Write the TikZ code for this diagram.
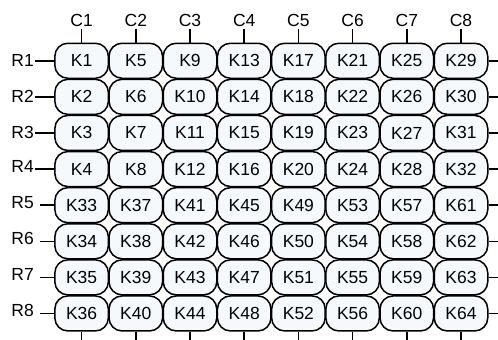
\documentclass[tikz,border=0pt]{standalone}
\usepackage{fontspec}
\setmainfont{Liberation Sans}
\usepackage{tikz}
\usetikzlibrary{positioning}
\definecolor{cKey}{RGB}{246,249,251}

\tikzset{
  keybox/.style={draw, line width=1.5pt, rounded corners=13pt, fill=cKey,
    minimum width=53.5pt, minimum height=35pt, inner sep=0pt,
    font=\fontsize{17.5}{20}\selectfont},
  pinlabel/.style={inner sep=2pt, font=\fontsize{17.5}{20}\selectfont},
  pinline/.style={line width=1.5pt}
}

\begin{document}
\begin{tikzpicture}[x=1pt, y=-1pt]
  \useasboundingbox (0,0) rectangle (498,340);
  % key matrix
  \foreach \r in {1,...,8} {
    \foreach \c in {1,...,8} {
      \pgfmathtruncatemacro\k{(\r>4)*32+(\c-1)*4+mod(\r-1,4)+1}
      \node[keybox] (k-\r-\c) at ({81.6+54.2*(\c-1)}, {60.75+36.1*(\r-1)}) {K\k};
    }
  }
  % column lines
  \foreach \c in {1,...,8} {
    \node[pinlabel, anchor=south] (col\c) at ({81.6+54.2*(\c-1)}, 29) {C\c};
    \coordinate (bot\c) at ({81.6+54.2*(\c-1)}, 340);
    \draw[pinline] (col\c.south) -- (k-1-\c.north);
    \draw[pinline] (k-8-\c.south) -- (bot\c);
  }
  % row lines
  \foreach \r in {1,...,8} {
    \pgfmathsetmacro\dy{(\r>3)*3}
    \pgfmathsetmacro\tx{(\r>4)*5}
    \node[pinlabel, anchor=east] (row\r) at (36, {60.75+36.1*(\r-1)-\dy}) {R\r};
    \coordinate (rs\r) at ({35+\tx}, {60.75+36.1*(\r-1)});
    \coordinate (re\r) at (498, {60.75+36.1*(\r-1)});
    \draw[pinline] (rs\r) -- (k-\r-1.west);
    \draw[pinline] (k-\r-8.east) -- (re\r);
  }
\end{tikzpicture}
\end{document}
